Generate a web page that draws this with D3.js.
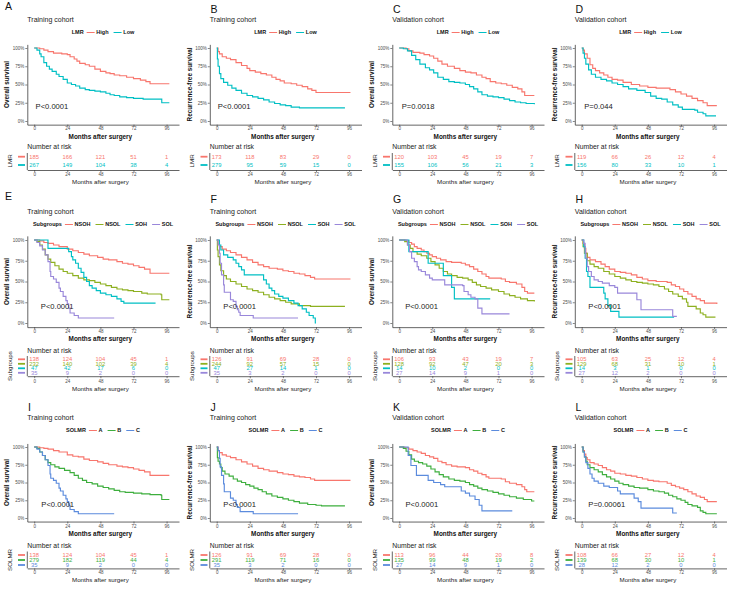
<!DOCTYPE html>
<html><head><meta charset="utf-8">
<script src="https://cdn.jsdelivr.net/npm/d3@7"></script>
<style>body{margin:0;background:#fff} svg{display:block}</style>
</head><body><svg id="c" width="730" height="591"></svg>
<script>
// ---------- DATA ----------
const timeTicks = [0, 24, 48, 72, 96];
const survTicks = [0, 0.25, 0.5, 0.75, 1];
const survTickLabels = ["0%", "25%", "50%", "75%", "100%"];
const lmrGroups = ["High", "Low"];
const subGroups = ["NSOH", "NSOL", "SOH", "SOL"];
const solmrGroups = ["A", "B", "C"];
const pValues = ["P<0.0001","P<0.0001","P=0.0018","P=0.044","P<0.0001","P<0.0001","P<0.0001","P<0.0001","P<0.0001","P<0.0001","P<0.0001","P=0.00061"];

// survival curves: [month, survival %] (step after)
const A_High = [[0,100],[4,99],[7,97],[10,95],[14,93],[20,92],[24,91],[26,88],[29,85],[31,82],[33,79],[37,77],[40,75],[44,71],[48,68],[52,66],[55,65],[58,63],[62,62],[67,60],[72,58],[77,56],[81,54],[84,51],[98,51]];
const A_Low = [[0,100],[2,97],[4,92],[5,88],[7,80],[9,75],[11,71],[13,68],[16,64],[18,61],[21,57],[24,52],[27,50],[30,48],[33,45],[37,43],[40,42],[44,41],[48,40],[52,38],[55,36],[58,35],[62,33],[67,32],[72,31],[79,30],[92,30],[92.5,25],[98,25]];
const B_High = [[0,100],[1,95],[2,92],[4,88],[7,86],[10,84],[14,80],[18,76],[22,72],[24,69],[28,67],[32,65],[36,63],[40,60],[43,57],[46,55],[49,52],[54,51],[58,49],[62,47],[66,44],[69,42],[72,39],[97,39]];
const B_Low = [[0,100],[0.5,85],[1,75],[2,65],[3,58],[5,53],[8,49],[11,45],[14,42],[18,38],[22,35],[26,33],[30,31],[34,29],[38,26],[42,24],[46,22],[50,21],[54,19],[60,18],[93,18]];
const C_High = [[0,100],[5,99],[7,96],[10,94],[15,93],[18,91],[22,89],[25,86],[28,82],[31,78],[35,75],[40,72],[44,69],[48,67],[52,66],[56,63],[60,60],[63,58],[66,54],[70,52],[74,51],[78,49],[82,46],[86,44],[89,40],[91,35],[98,35]];
const C_Low = [[0,100],[3,99],[6,96],[9,90],[12,84],[15,78],[19,73],[22,70],[25,66],[28,60],[32,57],[36,54],[40,53],[44,52],[48,50],[51,47],[54,44],[57,40],[60,36],[64,34],[68,33],[72,32],[76,30],[80,28],[84,26],[88,25],[92,24],[98,23]];
const D_High = [[0,100],[1,97],[2,92],[4,86],[6,77],[8,72],[10,69],[13,66],[16,63],[19,60],[22,57],[26,56],[30,53],[36,50],[42,48],[48,46],[54,45],[60,45],[64,43],[68,40],[72,37],[76,34],[80,31],[84,28],[88,25],[91,21],[98,21]];
const D_Low = [[0,100],[1,93],[2,86],[3,78],[5,70],[7,64],[10,60],[14,57],[18,55],[22,52],[26,50],[30,47],[34,44],[40,42],[46,39],[50,34],[54,31],[58,30],[62,26],[66,22],[70,19],[73,16],[82,15],[84,12],[88,10],[90,7],[97,6]];

const E_NSOH = [[0,100],[4,99],[7,97],[10,96],[14,94],[18,92],[24,89],[28,87],[32,85],[36,83],[40,81],[46,79],[50,77],[54,76],[60,74],[64,72],[68,71],[72,69],[76,67],[80,65],[84,60],[98,60]];
const E_NSOL = [[0,100],[2,98],[4,94],[6,89],[8,82],[10,77],[12,73],[15,69],[18,65],[21,62],[24,60],[28,57],[32,54],[36,52],[40,51],[44,49],[48,47],[52,45],[56,43],[60,41],[64,40],[68,39],[72,38],[78,36],[82,35],[92,34],[92.5,28],[98,28]];
const E_SOH = [[0,100],[10,90],[25,86],[27,80],[28,76],[30,72],[32,66],[34,61],[36,55],[38,50],[40,45],[42,42],[45,39],[48,36],[52,34],[56,32],[60,29],[63,26],[65,24],[88,24]];
const E_SOL = [[0,100],[2,97],[4,93],[6,88],[8,82],[10,74],[11.5,62],[12,56],[14,53],[16,49],[18,42],[19,38],[21,32],[23,27],[24,23],[25,18],[26,12],[29,9],[32,6],[58,6]];
const F_NSOH = [[0,100],[1,95],[2,92],[4,89],[7,87],[10,85],[14,82],[18,79],[22,76],[26,73],[30,70],[34,68],[38,66],[44,65],[48,63],[52,62],[56,60],[60,59],[64,57],[68,55],[71,53],[97,53]];
const F_NSOL = [[0,100],[0.5,88],[1,80],[2,70],[3,63],[5,57],[7,53],[10,50],[14,47],[18,44],[22,41],[26,39],[30,37],[34,34],[38,31],[42,29],[46,27],[50,25],[54,23],[60,21],[68,20],[93,20]];
const F_SOH = [[0,100],[2,94],[3,88],[5,82],[8,79],[12,76],[14,72],[16,68],[18,64],[20,58],[32,58],[34,52],[36,47],[38,42],[40,39],[42,35],[45,32],[48,30],[52,27],[56,24],[59,21],[62,17],[65,13],[67,9],[70,6],[71.5,0],[72,0]];
const F_SOL = [[0,100],[1,94],[2,84],[2.5,72],[3.5,58],[5,46],[5.5,37],[10,28],[12,26],[14,20],[15,16],[16,13],[17,9],[26.5,6],[59,6]];
const G_NSOH = [[0,100],[5,99],[7,97],[9,95],[11,92],[13,90],[16,88],[18,86],[20,84],[22,82],[24,80],[27,78],[30,76],[34,74],[38,73],[45,72],[48,70],[51,68],[54,65],[57,62],[60,59],[63,56],[65,54],[74,53],[77,50],[80,49],[85,47],[89,43],[91,38],[93,36],[98,36]];
const G_NSOL = [[0,100],[4,98],[6,94],[8,90],[10,86],[13,83],[16,81],[20,78],[23,74],[26,70],[29,66],[32,62],[35,59],[38,57],[42,55],[46,54],[50,52],[53,49],[56,46],[59,44],[63,42],[67,40],[72,38],[76,35],[80,33],[84,31],[88,29],[93,27],[98,26]];
const G_SOH = [[0,100],[7,86],[21,72],[32,57],[38,43],[40,29],[66,29]];
const G_SOL = [[0,100],[6,94],[7.5,86],[9,78],[11,74],[13,68],[14,64],[16,62],[19,58],[22,54],[24,52],[33,46],[46,45],[47,38],[50,34],[52,31],[55,29],[57,18],[60,11],[80,11]];
const H_NSOH = [[0,100],[1,96],[2,90],[3,84],[4,79],[6,76],[10,74],[14,71],[17,68],[20,65],[24,62],[28,61],[32,60],[36,58],[40,55],[44,53],[48,51],[54,50],[62,49],[65,46],[68,44],[71,41],[74,38],[77,35],[80,32],[83,29],[86,27],[89,24],[98,23]];
const H_NSOL = [[0,100],[1,92],[2,84],[4,75],[6,71],[9,68],[12,66],[16,62],[20,59],[24,56],[28,54],[32,52],[36,50],[40,49],[44,48],[48,47],[52,46],[56,44],[60,41],[63,38],[66,35],[70,32],[73,29],[76,25],[77,20],[83,17],[86,12],[88,10],[90,7],[97,7]];
const H_SOH = [[0,100],[1.5,92],[2.5,78],[3.5,62],[4.5,56],[6,43],[16,36],[17,29],[19,21],[21,14],[27,7],[67,7]];
const H_SOL = [[0,100],[1.5,96],[2.5,85],[3,78],[4,68],[5,62],[7,56],[9,52],[12,50],[15,48],[20,45],[24,43],[26,36],[40,28],[43,16],[66,8],[69,8]];

const I_A = [[0,100],[4,99],[7,98],[10,97],[14,95],[18,93],[24,89],[28,87],[32,86],[36,83],[40,81],[46,79],[50,77],[54,75],[60,73],[64,72],[68,71],[72,69],[76,67],[80,65],[84,60],[98,60]];
const I_B = [[0,100],[2,98],[4,93],[6,88],[8,82],[10,78],[12,75],[15,72],[18,70],[22,67],[26,64],[29,60],[32,56],[35,53],[38,50],[42,48],[46,45],[50,43],[54,41],[58,39],[62,37],[66,36],[72,35],[78,34],[84,33],[92,32],[92.5,26],[98,26]];
const I_C = [[0,100],[2,97],[4,93],[6,88],[8,82],[10,74],[11.5,62],[12,56],[14,53],[16,49],[18,42],[19,38],[21,32],[23,27],[24,23],[25,18],[26,12],[29,9],[32,6],[58,6]];
const J_A = [[0,100],[1,95],[2,92],[4,89],[7,87],[10,85],[14,82],[18,79],[22,76],[26,73],[30,70],[34,68],[38,66],[44,64],[48,62],[52,61],[56,59],[60,58],[64,57],[68,55],[71,53],[97,53]];
const J_B = [[0,100],[0.5,85],[1,80],[2,76],[3,71],[4,66],[6,62],[9,59],[12,55],[15,52],[18,50],[21,47],[24,45],[27,42],[30,40],[33,37],[36,34],[40,31],[44,29],[48,27],[52,25],[56,23],[60,21],[66,19],[72,18],[76,17],[93,17]];
const J_C = [[0,100],[1,95],[2,84],[2.5,72],[3.5,60],[5,48],[5.5,37],[10,28],[12,25],[14,19],[15,15],[17,9],[26.5,6],[59,6]];
const K_A = [[0,100],[4,99],[7,97],[10,95],[13,93],[16,91],[19,88],[22,86],[25,84],[28,80],[31,78],[34,75],[38,73],[42,72],[48,71],[51,68],[54,66],[57,63],[60,61],[63,58],[65,56],[74,55],[77,51],[80,49],[85,47],[89,44],[91,40],[92.5,37],[98,37]];
const K_B = [[0,100],[3,98],[5,94],[7,89],[9,83],[11,80],[14,78],[17,76],[20,73],[23,69],[26,65],[29,61],[32,58],[36,55],[40,53],[44,52],[48,50],[51,47],[54,45],[57,42],[60,40],[64,38],[68,36],[72,34],[76,32],[80,30],[85,28],[90,26],[96,24],[98,24]];
const K_C = [[0,100],[6.5,88],[8.5,74],[12.5,60],[21,53],[25,50],[30,47],[33,44],[45,38],[48,35],[51,31],[55,26],[58,18],[60,10],[82,10]];
const L_A = [[0,100],[1,95],[2,90],[3,85],[4,82],[6,78],[9,76],[12,74],[15,71],[18,68],[21,66],[24,63],[28,62],[32,60],[36,59],[40,57],[44,55],[48,53],[52,52],[56,51],[62,49],[65,46],[68,44],[71,42],[74,40],[77,37],[80,34],[83,31],[86,29],[89,26],[91,23],[98,23]];
const L_B = [[0,100],[1,93],[2,86],[3,80],[4,75],[6,71],[9,68],[12,65],[15,61],[18,58],[21,55],[24,52],[27,49],[30,47],[34,45],[38,43],[42,42],[48,40],[52,38],[56,37],[60,35],[63,32],[66,30],[69,27],[72,25],[75,22],[77,19],[80,17],[84,15],[86,10],[88,8],[90,6],[98,6]];
const L_C = [[0,100],[1,93],[2,86],[3,78],[4.5,70],[6,62],[7.5,56],[9,52],[12,49],[16,45],[20,43],[26,38],[28,34],[38,28],[41,23],[43,14],[66,7],[69,7]];

// numbers at risk at 0, 24, 48, 72, 96 months
const A_risk = [[185,166,121,51,1],[267,149,104,38,4]];
const B_risk = [[173,118,83,29,0],[279,95,59,15,0]];
const C_risk = [[120,103,45,19,7],[155,106,56,21,3]];
const D_risk = [[119,66,26,12,4],[156,80,33,10,1]];
const E_risk = [[138,124,104,45,1],[232,140,102,39,4],[47,42,17,6,0],[35,9,2,0,0]];
const F_risk = [[126,91,69,28,0],[244,92,57,15,0],[47,27,14,1,0],[35,3,2,0,0]];
const G_risk = [[106,93,43,19,7],[128,92,47,20,3],[14,10,2,0,0],[27,14,9,1,0]];
const H_risk = [[105,63,25,12,4],[129,68,31,10,1],[14,3,1,0,0],[27,12,2,0,0]];
const I_risk = [[138,124,104,45,1],[279,182,119,44,4],[35,9,2,0,0]];
const J_risk = [[126,91,69,28,0],[291,119,71,16,0],[35,3,2,0,0]];
const K_risk = [[113,96,44,20,8],[135,99,48,19,2],[27,14,9,1,0]];
const L_risk = [[108,66,27,12,4],[139,68,30,10,1],[28,12,2,0,0]];

// ---------- STYLE ----------
const lmrColors = ["#F8766D", "#00BFC4"];
const subColors = ["#F8766D", "#8DB020", "#00BFC4", "#9987DA"];
const solmrColors = ["#F8766D", "#3DAE3D", "#5B8BDD"];
const FONT = "'Liberation Sans', Arial, Helvetica, sans-serif";
const colW = 182.5;

const rowGeo = [
  {plotTop:44.35, plotBot:124.65, letterY:13, titleY:22, legendY:32.5, xTickY:128.6, xTitleY:136.3, nriskY:146.8, riskRows:[156.7,165], riskTop:153, riskAxisY:170, riskTickY:174.2, riskTitleY:181.8},
  {plotTop:235.85, plotBot:327.15, letterY:203, titleY:214, legendY:224.5, xTickY:331.9, xTitleY:338.2, nriskY:350.8, riskRows:[359.3,364,368.4,372.8], riskTop:356, riskAxisY:376.2, riskTickY:381.8, riskTitleY:388.3},
  {plotTop:443.45, plotBot:521.55, letterY:411, titleY:420, legendY:430.5, xTickY:526.8, xTitleY:533.3, nriskY:545.8, riskRows:[555,560,565], riskTop:551.5, riskAxisY:568.4, riskTickY:572.6, riskTitleY:579}
];

const panels = [
  {letter:"A", row:0, col:0, lx:5, ly:10, title:"Training cohort", ytitle:"Overall survival", gname:"LMR", groups:lmrGroups, colors:lmrColors, curves:[A_High,A_Low], risk:A_risk, pT:1},
  {letter:"B", row:0, col:1, title:"Training cohort", ytitle:"Recurrence-free survival", gname:"LMR", groups:lmrGroups, colors:lmrColors, curves:[B_High,B_Low], risk:B_risk, pT:0.8},
  {letter:"C", row:0, col:2, title:"Validation cohort", ytitle:"Overall survival", gname:"LMR", groups:lmrGroups, colors:lmrColors, curves:[C_High,C_Low], risk:C_risk, pT:1.8},
  {letter:"D", row:0, col:3, title:"Validation cohort", ytitle:"Recurrence-free survival", gname:"LMR", groups:lmrGroups, colors:lmrColors, curves:[D_High,D_Low], risk:D_risk, pT:1.8},
  {letter:"E", row:1, col:0, lx:5, ly:200, title:"Training cohort", ytitle:"Overall survival", gname:"Subgroups", groups:subGroups, colors:subColors, curves:[E_NSOH,E_NSOL,E_SOH,E_SOL], risk:E_risk, pT:4.8},
  {letter:"F", row:1, col:1, title:"Training cohort", ytitle:"Recurrence-free survival", gname:"Subgroups", groups:subGroups, colors:subColors, curves:[F_NSOH,F_NSOL,F_SOH,F_SOL], risk:F_risk, pT:4.8},
  {letter:"G", row:1, col:2, title:"Validation cohort", ytitle:"Overall survival", gname:"Subgroups", groups:subGroups, colors:subColors, curves:[G_NSOH,G_NSOL,G_SOH,G_SOL], risk:G_risk, pT:4.3},
  {letter:"H", row:1, col:3, title:"Validation cohort", ytitle:"Recurrence-free survival", gname:"Subgroups", groups:subGroups, colors:subColors, curves:[H_NSOH,H_NSOL,H_SOH,H_SOL], risk:H_risk, pT:4.8},
  {letter:"I", row:2, col:0, title:"Training cohort", ytitle:"Overall survival", gname:"SOLMR", groups:solmrGroups, colors:solmrColors, curves:[I_A,I_B,I_C], risk:I_risk, pT:5.2},
  {letter:"J", row:2, col:1, title:"Training cohort", ytitle:"Recurrence-free survival", gname:"SOLMR", groups:solmrGroups, colors:solmrColors, curves:[J_A,J_B,J_C], risk:J_risk, pT:4.8},
  {letter:"K", row:2, col:2, title:"Validation cohort", ytitle:"Overall survival", gname:"SOLMR", groups:solmrGroups, colors:solmrColors, curves:[K_A,K_B,K_C], risk:K_risk, pT:4.6},
  {letter:"L", row:2, col:3, title:"Validation cohort", ytitle:"Recurrence-free survival", gname:"SOLMR", groups:solmrGroups, colors:solmrColors, curves:[L_A,L_B,L_C], risk:L_risk, pT:4.8}
];

const svg = d3.select("#c");
svg.append("rect").attr("width",730).attr("height",591).attr("fill","#fff");

function styleAxis(g, fs) {
  g.selectAll("path.domain").attr("stroke","#222").attr("stroke-width",0.7);
  g.selectAll(".tick line").attr("stroke","#333").attr("stroke-width",0.6);
  g.selectAll(".tick text").attr("fill","#4d4d4d").style("font-family",FONT).style("font-size",fs+"px");
}

panels.forEach((p, i) => {
  const G = rowGeo[p.row];
  const cx = p.col * colW;
  const x = d3.scaleLinear().domain([-5,105]).range([cx+27.3, cx+179]);
  const y = d3.scaleLinear().domain([-0.05,1.05]).range([G.plotBot, G.plotTop]);
  const g = svg.append("g");

  // letter
  g.append("text").attr("x", p.lx !== undefined ? p.lx : cx+28).attr("y", p.ly !== undefined ? p.ly : G.letterY)
    .text(p.letter).style("font-family",FONT).style("font-size","10.5px").attr("fill","#111");
  // title
  g.append("text").attr("x", cx+27.3).attr("y", G.titleY).text(p.title)
    .style("font-family",FONT).style("font-size","7px").attr("fill","#222");

  // legend
  const lg = g.append("g");
  let lx = 0;
  const lt = lg.append("text").attr("x",lx).attr("y",G.legendY).attr("dy","0.35em").text(p.gname)
    .style("font-family",FONT).style("font-size","5.5px").style("font-weight","bold").attr("fill","#111");
  lx += lt.node().getComputedTextLength() + 3;
  p.groups.forEach((gr, k) => {
    lg.append("line").attr("x1",lx).attr("x2",lx+8).attr("y1",G.legendY).attr("y2",G.legendY)
      .attr("stroke",p.colors[k]).attr("stroke-width",1);
    lx += 9.7;
    const tt = lg.append("text").attr("x",lx).attr("y",G.legendY).attr("dy","0.35em").text(gr)
      .style("font-family",FONT).style("font-size","5.5px").style("font-weight","bold").attr("fill","#111");
    lx += tt.node().getComputedTextLength() + 5;
  });
  lx -= 5;
  lg.attr("transform", `translate(${cx+103 - lx/2},0)`);

  // axes
  const ya = g.append("g").attr("transform",`translate(${cx+27.3},0)`)
    .call(d3.axisLeft(y).tickValues(survTicks).tickFormat((d,j)=>survTickLabels[j]).tickSize(2).tickPadding(1).tickSizeOuter(0));
  styleAxis(ya, 4.5);
  const xa = g.append("g").attr("transform",`translate(0,${G.plotBot})`)
    .call(d3.axisBottom(x).tickValues(timeTicks).tickSize(2).tickPadding(1).tickSizeOuter(0));
  styleAxis(xa, 4.5);
  xa.selectAll(".tick text").attr("y",null).attr("dy",null).attr("transform",`translate(0,${G.xTickY - G.plotBot})`).attr("dominant-baseline","central");

  // axis titles
  g.append("text").attr("x", x(48)).attr("y", G.xTitleY).attr("text-anchor","middle").attr("dominant-baseline","central")
    .text("Months after surgery").style("font-family",FONT).style("font-size","6.4px").style("font-weight","bold").attr("fill","#111");
  g.append("text").attr("transform",`translate(${cx+6.8},${y(0.5)}) rotate(-90)`).attr("text-anchor","middle").attr("dominant-baseline","central")
    .text(p.ytitle).style("font-family",FONT).style("font-size","6.3px").style("font-weight","bold").attr("fill","#111");

  // curves
  const line = d3.line().x(d=>x(d[0])).y(d=>y(d[1]/100)).curve(d3.curveStepAfter);
  p.curves.forEach((c, k) => {
    g.append("path").datum(c).attr("d", line).attr("fill","none").attr("stroke",p.colors[k]).attr("stroke-width",1.15);
  });

  // p value
  g.append("text").attr("x", x(p.pT)).attr("y", y(0.195)).attr("dominant-baseline","central")
    .text(pValues[i]).style("font-family",FONT).style("font-size","7.6px").attr("fill","#222");

  // risk table
  g.append("text").attr("x", cx+27.3).attr("y", G.nriskY).attr("dominant-baseline","central")
    .text("Number at risk").style("font-family",FONT).style("font-size","6.8px").attr("fill","#222");
  const ry = d3.scalePoint().domain(p.groups).range([G.riskRows[0], G.riskRows[G.riskRows.length-1]]);
  const rx = g.append("g").attr("transform",`translate(0,${G.riskAxisY})`)
    .call(d3.axisBottom(x).tickValues(timeTicks).tickSize(2).tickPadding(1).tickSizeOuter(0));
  styleAxis(rx, 4.5);
  rx.selectAll(".tick text").attr("y",null).attr("dy",null).attr("transform",`translate(0,${G.riskTickY - G.riskAxisY})`).attr("dominant-baseline","central");
  g.append("line").attr("x1",cx+27.3).attr("x2",cx+27.3).attr("y1",G.riskTop).attr("y2",G.riskAxisY)
    .attr("stroke","#222").attr("stroke-width",0.7);
  p.groups.forEach((gr, k) => {
    g.append("line").attr("x1",cx+18).attr("x2",cx+25).attr("y1",ry(gr)).attr("y2",ry(gr))
      .attr("stroke",p.colors[k]).attr("stroke-width",1.8);
    p.risk[k].forEach((n, j) => {
      g.append("text").attr("x", x(timeTicks[j])).attr("y", ry(gr)).attr("text-anchor","middle").attr("dominant-baseline","central")
        .text(n).style("font-family",FONT).style("font-size","5.8px").attr("fill",p.colors[k]);
    });
  });
  g.append("text").attr("x", x(48)).attr("y", G.riskTitleY).attr("text-anchor","middle").attr("dominant-baseline","central")
    .text("Months after surgery").style("font-family",FONT).style("font-size","6.2px").attr("fill","#222");
  g.append("text").attr("transform",`translate(${cx+9},${(G.riskRows[0]+G.riskRows[G.riskRows.length-1])/2}) rotate(-90)`)
    .attr("text-anchor","middle").attr("dominant-baseline","central")
    .text(p.gname).style("font-family",FONT).style("font-size","6.2px").attr("fill","#222");
});
</script></body></html>
